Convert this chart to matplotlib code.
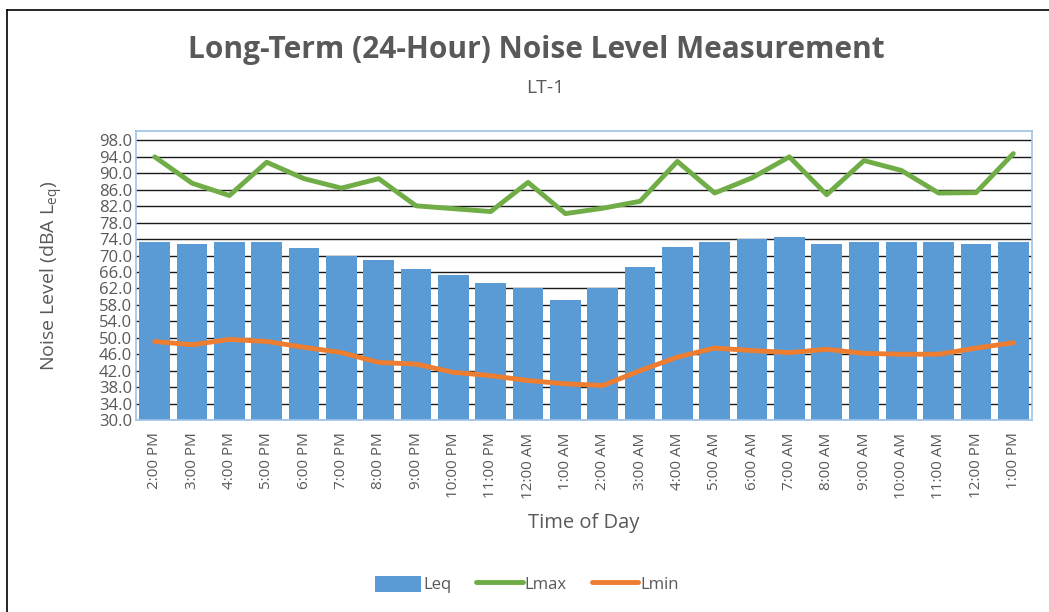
import numpy as np
import matplotlib
matplotlib.use('Agg')
import matplotlib.pyplot as plt
from matplotlib.lines import Line2D

# hourly measurements at LT-1
times = ['2:00 PM', '3:00 PM', '4:00 PM', '5:00 PM', '6:00 PM', '7:00 PM', '8:00 PM',
         '9:00 PM', '10:00 PM', '11:00 PM', '12:00 AM', '1:00 AM', '2:00 AM', '3:00 AM',
         '4:00 AM', '5:00 AM', '6:00 AM', '7:00 AM', '8:00 AM', '9:00 AM', '10:00 AM',
         '11:00 AM', '12:00 PM', '1:00 PM']
leq = [73.3, 72.9, 73.3, 73.4, 71.8, 70.0, 69.0, 66.8, 65.2, 63.4, 62.1, 59.2,
       62.1, 67.3, 72.0, 73.4, 74.0, 74.5, 72.9, 73.2, 73.2, 73.2, 72.9, 73.4]
lmax = [94.0, 87.6, 84.6, 92.7, 88.7, 86.4, 88.7, 82.1, 81.4, 80.7, 87.8, 80.2,
        81.5, 83.2, 92.9, 85.2, 88.9, 94.0, 84.8, 93.1, 90.7, 85.2, 85.3, 94.8]
lmin = [49.1, 48.3, 49.6, 49.1, 47.7, 46.4, 44.0, 43.6, 41.6, 40.8, 39.6, 38.8,
        38.4, 42.0, 45.3, 47.5, 46.9, 46.4, 47.2, 46.2, 46.0, 46.0, 47.5, 48.8]
y_ticks = np.arange(30, 99, 4)

TEXT = '#595959'
plt.rcParams['font.family'] = ['Open Sans', 'DejaVu Sans']

fig = plt.figure(figsize=(10.49, 6.12), dpi=100)
ax = fig.add_axes([0.1297, 0.3137, 0.8541, 0.4723])

x = np.arange(len(times))
bars = ax.bar(x, leq, width=0.82, color='#5B9BD5', label='Leq', zorder=2)
l1, = ax.plot(x, lmax, color='#70AD47', lw=3.5, label='Lmax', zorder=3, solid_capstyle='round')
l2, = ax.plot(x, lmin, color='#ED7D31', lw=3.5, label='Lmin', zorder=3, solid_capstyle='round')

ax.set_xlim(-0.5, len(times) - 0.5)
ax.set_ylim(30, 100.3)
ax.set_yticks(y_ticks)
ax.set_yticklabels([f'{v:.1f}' for v in y_ticks], fontsize=12, color=TEXT)
ax.set_xticks(x)
ax.set_xticklabels(times, rotation=90, fontsize=11, color=TEXT)
ax.tick_params(axis='both', length=0, pad=3)
ax.tick_params(axis='x', pad=9)
ax.yaxis.grid(True, color='#1a1a1a', lw=1.0, zorder=1)
ax.set_axisbelow(True)
for s in ax.spines.values():
    s.set_color('#9DC3E6')
    s.set_linewidth(1.2)

ax.set_ylabel('Noise Level (dBA L$_{\\mathregular{eq}}$)', fontsize=14, color=TEXT, labelpad=24)
ax.set_xlabel('Time of Day', fontsize=14.5, color=TEXT, labelpad=10)

fig.text(0.511, 0.918, 'Long-Term (24-Hour) Noise Level Measurement', ha='center', va='center',
         fontsize=21.5, fontweight='bold', color=TEXT)
fig.text(0.52, 0.856, 'LT-1', ha='center', va='center', fontsize=14, color=TEXT)

ax.legend([bars, l1, l2], ['Leq', 'Lmax', 'Lmin'], loc='center', bbox_to_anchor=(0.502, 0.045),
          bbox_transform=fig.transFigure, ncol=3, frameon=False, fontsize=12, labelcolor=TEXT,
          handlelength=2.8, handleheight=1.1, handletextpad=0.1, columnspacing=1.5)

# outer chart border (top and left edges visible)
fig.add_artist(Line2D([0.0067, 1.0], [1 - 10 / 612, 1 - 10 / 612], color='black', lw=1.2,
                      transform=fig.transFigure))
fig.add_artist(Line2D([0.0067, 0.0067], [0.0, 1 - 10 / 612], color='black', lw=1.2,
                      transform=fig.transFigure))

fig.savefig('out.png', dpi=100)
